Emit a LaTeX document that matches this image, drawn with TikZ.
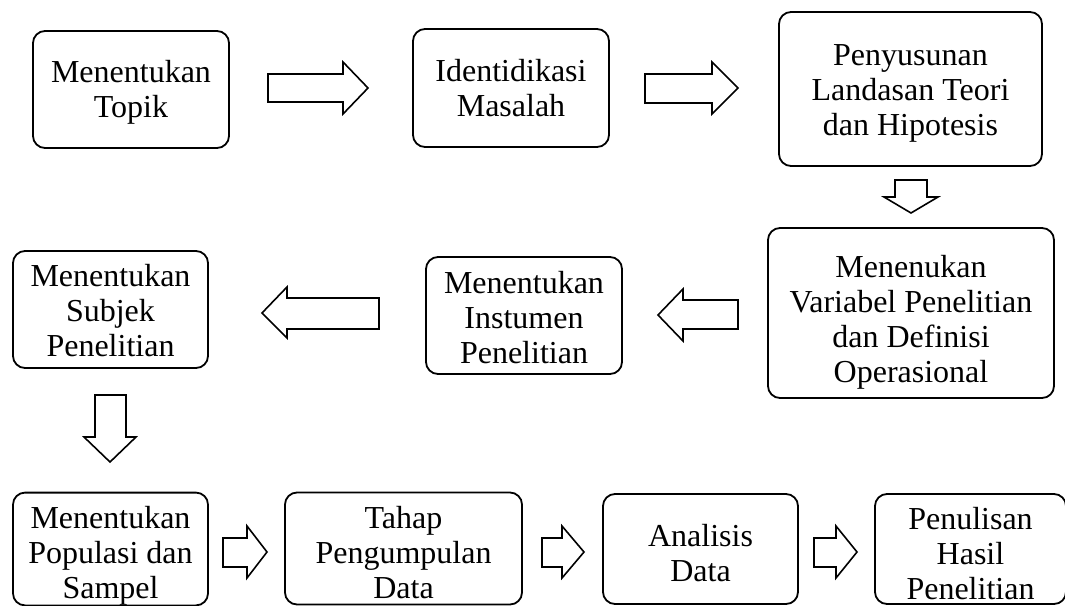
\documentclass[tikz,border=0pt]{standalone}
\usepackage{fontspec}
\setmainfont{Liberation Serif}
\newcommand\tp[1]{\rule{0pt}{#1pt}}
\begin{document}
\begin{tikzpicture}[x=1pt,y=-1pt,
  box/.style={draw, line width=1.8pt, rounded corners=12pt, align=center, inner sep=0pt,
    font=\fontsize{32}{35}\selectfont},
  blk/.style={draw, line width=1.6pt, line join=miter, fill=white}]
\useasboundingbox (0,0) rectangle (1065,605);
% boxes
\node[box, minimum width=196pt, minimum height=117pt] (b1) at (131,89.5) {\tp{28}Menentukan\\Topik};
\node[box, minimum width=196pt, minimum height=118pt] (b2) at (511,88) {Identidikasi\\Masalah};
\node[box, minimum width=263pt, minimum height=154pt] (b3) at (910.5,89) {\tp{30}Penyusunan\\Landasan Teori\\dan Hipotesis};
\node[box, minimum width=286pt, minimum height=170pt] (b4) at (911,313) {\tp{40}Menenukan\\Variabel Penelitian\\dan Definisi\\Operasional};
\node[box, minimum width=196pt, minimum height=117pt] (b5) at (524,315.5) {\tp{26}Menentukan\\Instumen\\Penelitian};
\node[box, minimum width=195pt, minimum height=117pt] (b6) at (110.5,309.5) {\tp{24}Menentukan\\Subjek\\Penelitian};
\node[box, minimum width=195pt, minimum height=112pt] (b7) at (110.5,549) {\tp{36}Menentukan\\Populasi dan\\Sampel};
\node[box, minimum width=237pt, minimum height=112pt] (b8) at (403.5,548.5) {\tp{30}Tahap\\Pengumpulan\\Data};
\node[box, minimum width=195pt, minimum height=110pt] (b9) at (700.5,549) {\tp{30}Analisis\\Data};
\node[box, minimum width=191pt, minimum height=110pt] (b10) at (970.5,549) {\tp{31}Penulisan\\Hasil\\Penelitian};
% block arrows
% A1 right
\draw[blk] (268,74) -- (343,74) -- (343,62) -- (368,88) -- (343,114) -- (343,102) -- (268,102) -- cycle;
% A2 right
\draw[blk] (645,74) -- (712,74) -- (712,62) -- (738,88) -- (712,114) -- (712,103) -- (645,103) -- cycle;
% A3 down
\draw[blk] (895,180) -- (895,197) -- (884,197) -- (911,213) -- (938,197) -- (927,197) -- (927,180) -- cycle;
% A4 left
\draw[blk] (738,300) -- (683,300) -- (683,289) -- (658,315) -- (683,341) -- (683,329) -- (738,329) -- cycle;
% A5 left
\draw[blk] (379,298) -- (287,298) -- (287,287) -- (262,313) -- (287,338) -- (287,329) -- (379,329) -- cycle;
% A6 down
\draw[blk] (95,395) -- (95,437) -- (84,437) -- (110,462) -- (136,437) -- (126,437) -- (126,395) -- cycle;
% A7 right
\draw[blk] (223,538) -- (247,538) -- (247,526) -- (267,552) -- (247,578) -- (247,567) -- (223,567) -- cycle;
% A8 right
\draw[blk] (542,538) -- (562,538) -- (562,526) -- (584,552) -- (562,578) -- (562,567) -- (542,567) -- cycle;
% A9 right
\draw[blk] (814,538) -- (836,538) -- (836,526) -- (857,552) -- (836,578) -- (836,567) -- (814,567) -- cycle;
\end{tikzpicture}
\end{document}
